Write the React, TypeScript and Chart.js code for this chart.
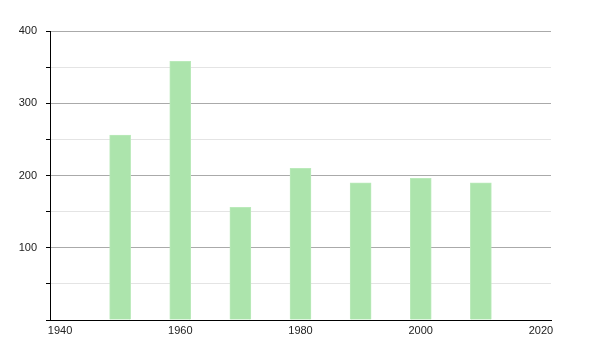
import React, { useEffect, useRef } from "react";
import { Chart, registerables } from "chart.js";

Chart.register(...registerables);

const years = [1950, 1960, 1970, 1980, 1990, 2000, 2010];
const values = [256, 358, 156, 210, 190, 196, 190];
const xTicks = [1940, 1960, 1980, 2000, 2020];

export default function App() {
  const ref = useRef<HTMLCanvasElement | null>(null);
  useEffect(() => {
    if (!ref.current) return;
    const chart = new Chart(ref.current, {
      type: "bar",
      data: {
        datasets: [
          {
            data: years.map((y, i) => ({ x: y, y: values[i] })),
            backgroundColor: "rgb(172,228,172)",
            borderColor: "rgb(186,234,186)",
            borderWidth: 1,
            barThickness: 21,
          },
        ],
      },
      options: {
        animation: false,
        responsive: false,
        maintainAspectRatio: false,
        layout: { padding: { left: 0, top: 31, right: 49, bottom: 0 } },
        plugins: { legend: { display: false }, tooltip: { enabled: false } },
        scales: {
          x: {
            type: "linear",
            offset: false,
            min: 1940 - 10 / 6,
            max: 2020 + 10 / 6,
            afterBuildTicks: (scale: any) => {
              scale.ticks = xTicks.map((v) => ({ value: v }));
            },
            afterFit: (scale: any) => {
              scale.height = 30;
            },
            grid: { display: false, drawTicks: false, offset: false },
            border: { display: true, color: "#000", width: 1 },
            ticks: {
              color: "#222",
              font: { family: "Liberation Sans", size: 11 },
              padding: 4,
              maxRotation: 0,
              autoSkip: false,
              callback: (v: any) => String(v),
            },
          },
          y: {
            min: 0,
            max: 400,
            afterFit: (scale: any) => {
              scale.width = 50;
            },
            grid: {
              color: (ctx: any) =>
                ctx.tick && ctx.tick.value % 100 === 0 ? "#aaaaaa" : "#e4e4e4",
              tickColor: "#000",
              tickLength: 4,
              drawOnChartArea: true,
            },
            border: { display: true, color: "#000", width: 1 },
            ticks: {
              stepSize: 50,
              color: "#222",
              font: { family: "Liberation Sans", size: 11 },
              padding: 9,
              callback: (v: any) => (v % 100 === 0 && v !== 0 ? String(v) : ""),
            },
          },
        },
      },
    });
    return () => chart.destroy();
  }, []);
  return (
    <div style={{ position: "absolute", left: 0, top: 0, width: 600, height: 350, background: "#fff" }}>
      <canvas ref={ref} width={600} height={350} />
    </div>
  );
}
